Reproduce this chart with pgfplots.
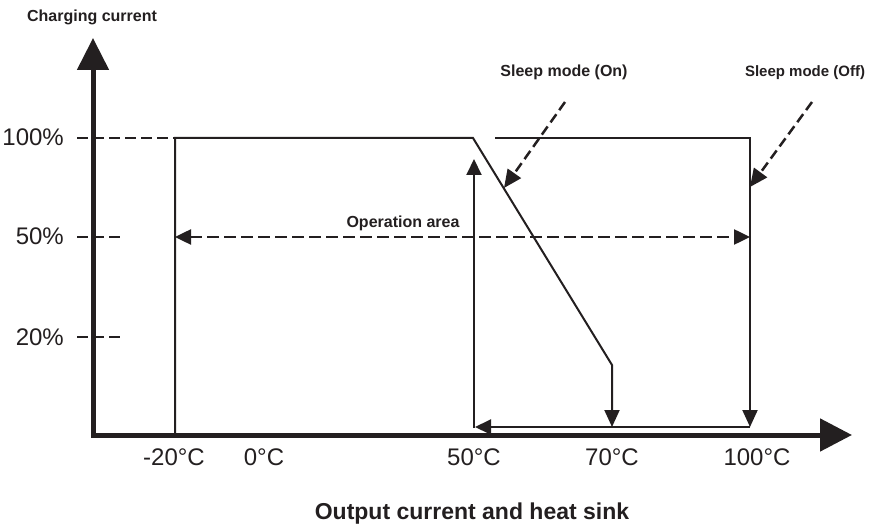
\documentclass[border=0pt]{standalone}
\usepackage{pgfplots}
\pgfplotsset{compat=1.18}
\usepackage{fontspec}
\setmainfont{Liberation Sans}
\usetikzlibrary{arrows.meta}
\definecolor{ink}{HTML}{231F20}
\begin{document}
\begin{tikzpicture}
\begin{axis}[
  width=875pt, height=526pt, scale only axis,
  xmin=0, xmax=875, ymin=0, ymax=526, y dir=reverse,
  hide axis, clip=false,
]
% main axes
\addplot[ink, line width=5pt, line join=miter,
  {Triangle[width=31pt,length=32pt]}-{Triangle[width=32pt,length=32pt]}]
  coordinates {(93,38) (93,435) (852,435)};
% dashed level markers
\addplot[ink, line width=2pt, dash pattern=on 11pt off 5pt] coordinates {(77,138) (175,138)};
\addplot[ink, line width=2pt, dash pattern=on 11pt off 5pt] coordinates {(77,237) (122,237)};
\addplot[ink, line width=2pt, dash pattern=on 11pt off 5pt] coordinates {(77,337) (122,337)};
% derating curve
\addplot[ink, line width=2pt, -{Triangle[width=15pt,length=17pt]}]
  coordinates {(175,435) (175,138) (473,138) (612,365) (612,427)};
\addplot[ink, line width=2pt, -{Triangle[width=15pt,length=17pt]}]
  coordinates {(495,138) (750,138) (750,427)};
\addplot[ink, line width=2pt, -{Triangle[width=15pt,length=16pt]}]
  coordinates {(750,427) (475,427)};
\addplot[ink, line width=2pt, -{Triangle[width=15pt,length=16pt]}]
  coordinates {(474,428) (474,159)};
% operation area
\addplot[ink, line width=2.5pt, dash pattern=on 12pt off 5pt,
  {Triangle[width=15pt,length=16pt]}-{Triangle[width=15pt,length=16pt]}]
  coordinates {(175,237) (750,237)};
% sleep mode pointers
\addplot[ink, line width=2.5pt, dash pattern=on 10pt off 5pt, -{Triangle[width=16pt,length=18pt]}]
  coordinates {(565,102) (504,188)};
\addplot[ink, line width=2.5pt, dash pattern=on 10pt off 5pt, -{Triangle[width=16pt,length=18pt]}]
  coordinates {(812,102) (750,187)};
% labels
\begin{scope}[every node/.style={text=ink, inner sep=0pt}]
\node[font=\fontsize{24}{28}\selectfont, anchor=base east] at (axis cs:64,146) {100\%};
\node[font=\fontsize{24}{28}\selectfont, anchor=base east] at (axis cs:64,245) {50\%};
\node[font=\fontsize{24}{28}\selectfont, anchor=base east] at (axis cs:64,345) {20\%};
\node[font=\fontsize{24}{28}\selectfont, anchor=base] at (axis cs:174,465) {-20°C};
\node[font=\fontsize{24}{28}\selectfont, anchor=base] at (axis cs:264,465) {0°C};
\node[font=\fontsize{24}{28}\selectfont, anchor=base] at (axis cs:474,465) {50°C};
\node[font=\fontsize{24}{28}\selectfont, anchor=base] at (axis cs:612,465) {70°C};
\node[font=\fontsize{24}{28}\selectfont, anchor=base] at (axis cs:757,465) {100°C};
\node[font=\bfseries\fontsize{16}{19}\selectfont, anchor=base] at (axis cs:92,22) {Charging current};
\node[font=\bfseries\fontsize{16}{19}\selectfont, anchor=base] at (axis cs:564,77) {Sleep mode (On)};
\node[font=\bfseries\fontsize{15}{18}\selectfont, anchor=base] at (axis cs:805,77) {Sleep mode (Off)};
\node[font=\bfseries\fontsize{16}{19}\selectfont, anchor=base] at (axis cs:403,228) {Operation area};
\node[font=\bfseries\fontsize{23}{27}\selectfont, anchor=base] at (axis cs:472,519) {Output current and heat sink};
\end{scope}
\end{axis}
\pgfresetboundingbox
\path (current axis.south west) rectangle (current axis.north east);
\end{tikzpicture}
\end{document}
